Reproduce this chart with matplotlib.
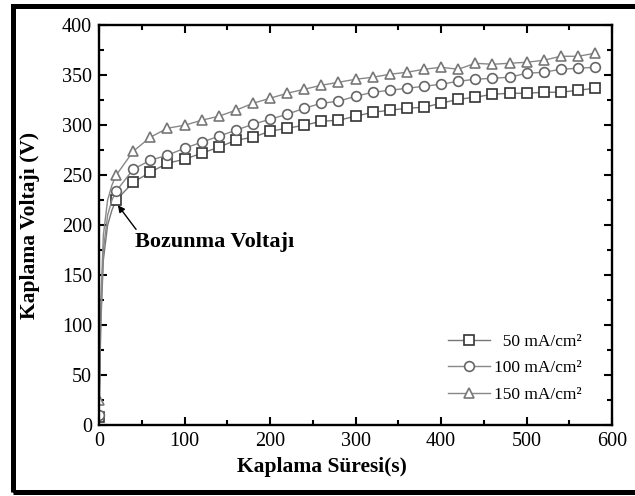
import matplotlib
matplotlib.use("Agg")
import matplotlib.pyplot as plt
from matplotlib.patches import Rectangle
from matplotlib.ticker import MultipleLocator

plt.rcParams['font.family'] = ['Liberation Serif', 'DejaVu Serif']

# time points (s); markers drawn at 0 and every 20 s
t = [0, 2, 5, 10, 15, 20, 40, 60, 80, 100, 120, 140, 160, 180, 200, 220, 240, 260,
     280, 300, 320, 340, 360, 380, 400, 420, 440, 460, 480, 500, 520, 540, 560, 580]

v50 = [8, 100, 165, 200, 215, 225, 243, 253, 262, 266, 272, 278, 285, 288, 294, 297, 300, 304,
       305, 309, 313, 315, 317, 318, 322, 326, 328, 331, 332, 332, 333, 333, 335, 337]
v100 = [10, 105, 175, 210, 225, 234, 256, 265, 270, 277, 283, 289, 295, 301, 306, 311, 317, 322,
        324, 329, 333, 335, 337, 339, 341, 344, 346, 347, 348, 352, 353, 356, 357, 358]
v150 = [25, 120, 190, 225, 240, 250, 274, 288, 297, 300, 305, 309, 315, 322, 327, 332, 336, 340,
        343, 346, 348, 351, 353, 356, 358, 356, 362, 361, 362, 363, 365, 369, 369, 372]

labels = ['  50 mA/cm²', '100 mA/cm²', '150 mA/cm²']
markers = ['s', 'o', '^']
edge_colors = ['#333333', '#666666', '#777777']
line_colors = ['#777777', '#888888', '#888888']

mark_idx = [0] + list(range(5, len(t)))

fig = plt.figure(figsize=(6.35, 4.96), dpi=100)
ax = fig.add_axes([0.156, 0.143, 0.808, 0.806])

for v, lab, m, ec, lc in zip([v50, v100, v150], labels, markers, edge_colors, line_colors):
    ax.plot(t, v, color=lc, lw=1.0, marker=m, markevery=mark_idx, ms=7 if m != 's' else 6.5,
            mfc='white', mec=ec, mew=1.2, label=lab)

ax.set_xlim(0, 600)
ax.set_ylim(0, 400)
ax.xaxis.set_major_locator(MultipleLocator(100))
ax.xaxis.set_minor_locator(MultipleLocator(50))
ax.yaxis.set_major_locator(MultipleLocator(50))
ax.yaxis.set_minor_locator(MultipleLocator(25))
ax.tick_params(which='both', direction='in', top=True, right=True, width=1.5)
ax.tick_params(which='major', length=6, labelsize=14.5, pad=5)
ax.tick_params(which='minor', length=3.5)
for s in ax.spines.values():
    s.set_linewidth(1.7)

ax.set_xlabel('Kaplama Süresi(s)', fontsize=15.5, fontweight='bold')
ax.set_ylabel('Kaplama Voltajı (V)', fontsize=15.5, fontweight='bold')
ax.xaxis.set_label_coords(0.435, -0.08)
ax.yaxis.set_label_coords(-0.115, 0.5)

ax.annotate('Bozunma Voltajı', xy=(22, 220), xytext=(42, 183), fontsize=16,
            fontweight='bold', va='center', ha='left',
            arrowprops=dict(arrowstyle='-|>', color='black', lw=1.0,
                            shrinkA=0, shrinkB=0, mutation_scale=10,
                            relpos=(0.02, 1.0)))

leg = ax.legend(loc='lower right', bbox_to_anchor=(0.965, 0.025), frameon=False,
                fontsize=12.5, handlelength=2.4, handletextpad=0.25, labelspacing=0.6,
                borderpad=0.2)

fig.patches.append(Rectangle((0.0197, 0.0075), 1.0, 0.981, transform=fig.transFigure,
                             fill=False, edgecolor='black', lw=3.6))

fig.savefig('out.png', dpi=100)
